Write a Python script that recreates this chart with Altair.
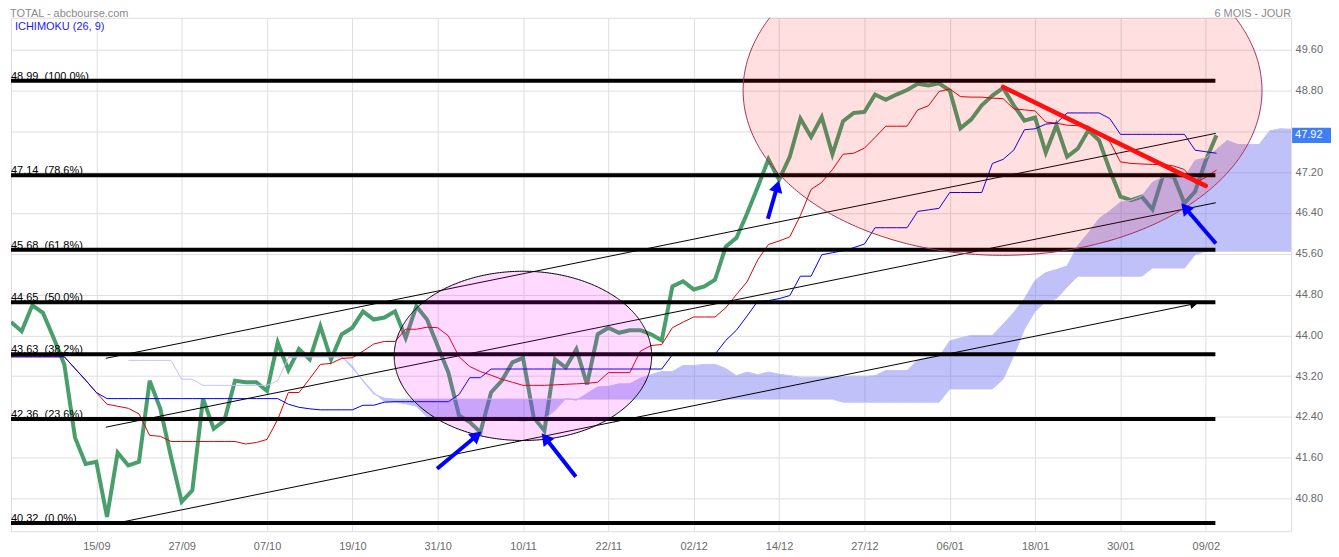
import math
import numpy as np
import pandas as pd
import altair as alt

# ---------------- data (x = trading-day index, 0 = 05/09) ----------------
tick_index = [8, 16, 24, 32, 40, 48, 56, 64, 72, 80, 88, 96, 104, 112]
tick_labels = ["15/09", "27/09", "07/10", "19/10", "31/10", "10/11", "22/11",
               "02/12", "14/12", "27/12", "06/01", "18/01", "30/01", "09/02"]
y_ticks = [40.80, 41.60, 42.40, 43.20, 44.00, 44.80, 45.60, 46.40, 47.20, 48.00, 48.80, 49.60]

close = [44.26, 44.08, 44.59, 44.44, 43.95, 43.43, 42.00, 41.48, 41.52, 40.44,
         41.70, 41.45, 41.52, 43.11, 42.56, 41.62, 40.74, 40.96, 42.76, 42.17,
         42.33, 43.11, 43.08, 43.08, 42.91, 43.86, 43.32, 43.73, 43.53, 44.18,
         43.53, 44.02, 44.15, 44.47, 44.31, 44.35, 44.47, 43.95, 44.57, 44.31,
         43.79, 43.27, 42.43, 42.30, 42.10, 42.88, 43.11, 43.47, 43.56, 42.39,
         42.13, 43.53, 43.37, 43.73, 43.04, 44.02, 44.15, 44.05, 44.10, 44.10,
         44.02, 43.90, 44.96, 45.06, 44.90, 44.96, 45.09, 45.74, 45.91, 46.39,
         46.91, 47.45, 47.05, 47.50, 48.25, 47.89, 48.28, 47.55, 48.20, 48.36,
         48.38, 48.72, 48.62, 48.72, 48.81, 48.93, 48.90, 48.94, 48.80, 48.06,
         48.23, 48.51, 48.70, 48.85, 48.51, 48.21, 48.27, 47.58, 48.12, 47.50,
         47.66, 48.02, 47.82, 47.24, 46.72, 46.65, 46.72, 46.47, 47.14, 47.11,
         46.59, 46.82, 47.43, 47.92]

tenkan = [43.58, 43.58, 43.58, 43.58, 43.58, 43.58, 43.35, 43.12, 42.88, 42.65,
          42.61, 42.57, 42.46, 42.04, 42.02, 41.92, 41.92, 41.92, 41.92, 41.92,
          41.92, 41.92, 41.87, 41.90, 41.96, 42.35, 42.88, 42.88, 43.15, 43.43,
          43.45, 43.55, 43.56, 43.69, 43.83, 43.88, 43.88, 44.12, 44.12, 44.16,
          44.15, 43.99, 43.58, 43.39, 43.29, 43.22, 43.14, 43.08, 43.02, 43.02,
          43.02, 43.03, 43.04, 43.05, 43.06, 43.08, 43.27, 43.27, 43.27, 43.69,
          43.80, 43.82, 44.15, 44.26, 44.36, 44.36, 44.36, 44.54, 44.80, 45.05,
          45.48, 45.78, 45.85, 45.93, 46.35, 46.86, 47.00, 47.25, 47.55, 47.57,
          47.67, 47.88, 48.10, 48.10, 48.10, 48.42, 48.50, 48.78, 48.83, 48.68,
          48.67, 48.67, 48.65, 48.64, 48.44, 48.42, 48.40, 48.18, 48.16, 48.12,
          48.11, 48.10, 47.95, 47.80, 47.40, 47.37, 47.36, 47.35, 47.35, 47.32,
          47.25, 46.98, 47.10, 47.24]

kijun = [43.58, 43.58, 43.58, 43.58, 43.58, 43.58, 43.35, 43.12, 42.88, 42.76,
         42.76, 42.76, 42.76, 42.76, 42.76, 42.76, 42.76, 42.76, 42.76, 42.76,
         42.76, 42.76, 42.76, 42.76, 42.76, 42.76, 42.65, 42.59, 42.56, 42.54,
         42.54, 42.54, 42.54, 42.63, 42.63, 42.69, 42.70, 42.70, 42.70, 42.70,
         42.70, 42.70, 42.84, 43.17, 43.17, 43.34, 43.34, 43.34, 43.34, 43.34,
         43.34, 43.34, 43.34, 43.34, 43.34, 43.34, 43.34, 43.34, 43.34, 43.34,
         43.34, 43.34, 43.62, 43.63, 43.63, 43.63, 43.63, 43.90, 44.10, 44.38,
         44.67, 44.68, 44.72, 44.78, 45.16, 45.16, 45.58, 45.62, 45.66, 45.72,
         45.79, 46.11, 46.11, 46.11, 46.11, 46.43, 46.46, 46.49, 46.80, 46.80,
         46.80, 46.80, 47.37, 47.45, 47.63, 48.03, 48.05, 48.14, 48.16, 48.36,
         48.36, 48.36, 48.36, 48.25, 47.94, 47.94, 47.94, 47.94, 47.94, 47.94,
         47.94, 47.63, 47.60, 47.57]

senkou_b_start = 11
senkou_b = [43.51, 43.51, 43.51, 43.51, 43.51, 43.14, 43.14, 43.02, 43.02, 43.02,
            43.02, 43.02, 43.02, 43.02, 43.11, 43.56, 43.58, 43.58, 43.58, 43.58,
            43.58, 43.40, 43.10, 42.85, 42.77, 42.75, 42.75, 42.75, 42.75, 42.75,
            42.75, 42.75, 42.75, 42.75, 42.75, 42.75, 42.75, 42.75, 42.75, 42.75,
            42.75, 42.75, 42.75, 42.75, 42.75, 42.75, 42.75, 42.75, 42.75, 42.75,
            42.75, 42.75, 42.75, 42.75, 42.75, 42.75, 42.75, 42.75, 42.75, 42.75,
            42.75, 42.75, 42.75, 42.75, 42.75, 42.75, 42.75, 42.69, 42.69, 42.69,
            42.69, 42.69, 42.69, 42.69, 42.69, 42.69, 42.69, 42.95, 42.95, 42.95,
            42.95, 42.95, 43.14, 43.60, 44.12, 44.47, 44.67, 44.72, 44.95, 45.16,
            45.16, 45.16, 45.16, 45.16, 45.16, 45.16, 45.32, 45.32, 45.32, 45.32,
            45.58, 45.65, 45.65, 45.65, 45.65, 45.65, 45.65, 45.65, 45.65, 45.65]

senkou_a_start = 26
senkou_a = [43.58, 43.58, 43.58, 43.58, 43.58, 43.58, 43.36, 43.12, 42.88, 42.70,
            42.69, 42.66, 42.61, 42.40, 42.39, 42.34, 42.34, 42.34, 42.34, 42.34,
            42.34, 42.34, 42.32, 42.34, 42.36, 42.53, 42.76, 42.73, 42.86, 42.99,
            43.00, 43.05, 43.05, 43.16, 43.23, 43.29, 43.29, 43.41, 43.41, 43.43,
            43.43, 43.35, 43.21, 43.28, 43.23, 43.28, 43.24, 43.21, 43.18, 43.18,
            43.18, 43.19, 43.19, 43.20, 43.20, 43.21, 43.31, 43.31, 43.31, 43.52,
            43.57, 43.58, 43.89, 43.95, 44.00, 44.00, 44.00, 44.22, 44.45, 44.72,
            45.08, 45.23, 45.29, 45.36, 45.76, 46.01, 46.29, 46.44, 46.61, 46.65,
            46.73, 47.00, 47.10, 47.10, 47.10, 47.43, 47.48, 47.64, 47.82, 47.74,
            47.74, 47.74, 48.01, 48.05, 48.04]

fib_values = [48.99, 47.14, 45.68, 44.65, 43.63, 42.36, 40.32]
fib_pcts = ["100.0%", "78.6%", "61.8%", "50.0%", "38.2%", "23.6%", "0.0%"]
fib_start = 0.0
fib_end = 112.9

# channel lines (start/end in index & price)
chan_x0 = [8.89, 8.89, 10.5]
chan_y0 = [43.55, 42.20, 40.345]
chan_x1 = [112.94, 112.94, 111.2]
chan_y1 = [47.96, 46.60, 44.63]

trend_x = [93.0, 112.0]
trend_y = [48.87, 46.93]

# blue arrows: tail -> head
arrow_tx = [39.94, 52.95, 70.95, 112.95]
arrow_ty = [41.386, 41.23, 46.286, 45.80]
arrow_hx = [43.97, 49.86, 71.94, 109.82]
arrow_hy = [42.089, 42.05, 47.00, 46.56]

# ellipses: centre (index, price), radii (index, price)
ell_cx = [47.99, 92.95]
ell_cy = [43.598, 48.80]
ell_rx = [12.07, 24.32]
ell_ry = [1.659, 3.231]
ell_fill = ["#ff00ff", "#ff0000"]
ell_fill_op = [0.15, 0.125]
ell_stroke = ["#000000", "#a0305a"]

last_price = 47.92

# ---------------- geometry ----------------
W, H = 1284, 515
XD = [0, 120]
YD = [40.16, 50.225]
PX_I = W / (XD[1] - XD[0])
PX_V = H / (YD[1] - YD[0])
FONT = "Liberation Sans"

xs = alt.Scale(domain=XD, nice=False, zero=False)
ys = alt.Scale(domain=YD, nice=False, zero=False)


def X(f, axis=None):
    if axis is None:
        return alt.X(f, type="quantitative", scale=xs, title=None)
    return alt.X(f, type="quantitative", scale=xs, axis=axis, title=None)


def Y(f, axis=None):
    if axis is None:
        return alt.Y(f, type="quantitative", scale=ys, title=None)
    return alt.Y(f, type="quantitative", scale=ys, axis=axis, title=None)


label_arr = "[" + ",".join("'%s'" % t for t in tick_labels) + "]"
x_axis = alt.Axis(values=tick_index, labelExpr=label_arr + "[round((datum.value - 8) / 8)]",
                  grid=True, gridColor="#dedede", gridWidth=1, ticks=False, domain=False,
                  labelColor="#6a6a6a", labelFontSize=11, labelFont=FONT, labelPadding=9,
                  labelOverlap=False, labelFlush=False)
# the 48.00 label sits under the last-price box, as in the reference
y_axis = alt.Axis(values=y_ticks, orient="right", grid=True, gridColor="#dedede",
                  labelExpr="abs(datum.value - %.2f) < 0.3 ? '' : format(datum.value, '.2f')" % last_price,
                  gridWidth=1, ticks=False, domain=False, labelColor="#6a6a6a", labelFontSize=11,
                  labelFont=FONT, labelPadding=4, labelBaseline="middle", labelOverlap=False,
                  labelFlush=False)

n = len(close)
df = pd.DataFrame({"i": np.arange(n), "close": close, "tenkan": tenkan, "kijun": kijun})
dfb = pd.DataFrame({"i": np.arange(senkou_b_start, senkou_b_start + len(senkou_b)), "b": senkou_b})
dfa = pd.DataFrame({"i": np.arange(senkou_a_start, senkou_a_start + len(senkou_a)), "a": senkou_a})
cloud = dfa.merge(dfb, on="i")

fib = pd.DataFrame({"v": fib_values, "x0": fib_start, "x1": fib_end,
                    "lab": ["%.2f\u00a0 (%s)" % (v, p) for v, p in zip(fib_values, fib_pcts)]})
chan = pd.DataFrame({"x0": chan_x0, "y0": chan_y0, "x1": chan_x1, "y1": chan_y1})
trend = pd.DataFrame({"x0": [trend_x[0]], "y0": [trend_y[0]], "x1": [trend_x[1]], "y1": [trend_y[1]]})


def arrow_parts(tx, ty, hx, hy, back_shaft, back_head):
    rows_s, rows_h = [], []
    for a, b, c, d in zip(tx, ty, hx, hy):
        dx = (c - a) * PX_I
        dy = -(d - b) * PX_V
        L = math.hypot(dx, dy)
        ux, uy = dx / L, dy / L
        ang = math.degrees(math.atan2(dx, -dy)) % 360
        rows_s.append({"x0": a, "y0": b, "x1": c - back_shaft * ux / PX_I, "y1": d + back_shaft * uy / PX_V})
        rows_h.append({"x": c - back_head * ux / PX_I, "y": d + back_head * uy / PX_V, "ang": ang})
    return pd.DataFrame(rows_s), pd.DataFrame(rows_h)


arr_s, arr_h = arrow_parts(arrow_tx, arrow_ty, arrow_hx, arrow_hy, 8, 6.0)
blk_s, blk_h = arrow_parts([chan_x0[2]], [chan_y0[2]], [chan_x1[2]], [chan_y1[2]], 4, 4.5)

# ellipse shapes
ell_area, ell_line = [], []
for k in range(len(ell_cx)):
    th = np.linspace(math.pi, 0, 241)
    ell_area.append(pd.DataFrame({"x": ell_cx[k] + ell_rx[k] * np.cos(th),
                                  "yt": ell_cy[k] + ell_ry[k] * np.sin(th),
                                  "yb": ell_cy[k] - ell_ry[k] * np.sin(th)}))
    th2 = np.linspace(0, 2 * math.pi, 481)
    ell_line.append(pd.DataFrame({"x": ell_cx[k] + ell_rx[k] * np.cos(th2),
                                  "y": ell_cy[k] + ell_ry[k] * np.sin(th2),
                                  "o": np.arange(len(th2))}))

# ---------------- layers ----------------
base = alt.Chart(df)

green = base.mark_line(color="#4a9e6c", strokeWidth=4, clip=True).encode(
    x=X("i", x_axis), y=Y("close", y_axis))

cloud_area = alt.Chart(cloud).mark_area(color="#6464f0", opacity=0.4, clip=True).encode(
    x=X("i"), y=Y("a"), y2="b")
line_b = alt.Chart(dfb).mark_line(color="#c2c2f6", strokeWidth=1, clip=True).encode(x=X("i"), y=Y("b"))
line_a = alt.Chart(dfa).mark_line(color="#c2c2f6", strokeWidth=1, clip=True).encode(x=X("i"), y=Y("a"))

red = base.mark_line(color="#e00000", strokeWidth=1, clip=True).encode(x=X("i"), y=Y("tenkan"))
blue = base.mark_line(color="#0000ee", strokeWidth=1, clip=True).encode(x=X("i"), y=Y("kijun"))

chan_l = alt.Chart(chan).mark_rule(color="black", strokeWidth=1, clip=True).encode(
    x=X("x0"), y=Y("y0"), x2="x1", y2="y1")

fib_l = alt.Chart(fib).mark_rule(color="black", strokeWidth=4, strokeCap="butt", clip=True).encode(
    x=X("x0"), x2="x1", y=Y("v"))
fib_t = alt.Chart(fib).mark_text(align="left", baseline="alphabetic", dy=-1, fontSize=11,
                                 font=FONT, color="black").encode(
    x=alt.value(0), y=Y("v"), text="lab:N")

ell_layers = []
for k in range(len(ell_cx)):
    ell_layers.append(alt.Chart(ell_area[k]).mark_area(color=ell_fill[k], opacity=ell_fill_op[k],
                                                      clip=True).encode(x=X("x"), y=Y("yt"), y2="yb"))
    ell_layers.append(alt.Chart(ell_line[k]).mark_line(color=ell_stroke[k], strokeWidth=1,
                                                      clip=True).encode(x=X("x"), y=Y("y"), order="o:Q"))

trend_l = alt.Chart(trend).mark_rule(color="#ff1010", strokeWidth=4.5, strokeCap="round", clip=True).encode(
    x=X("x0"), y=Y("y0"), x2="x1", y2="y1")

arrow_shaft = alt.Chart(arr_s).mark_rule(color="#0000ff", strokeWidth=4, clip=True).encode(
    x=X("x0"), y=Y("y0"), x2="x1", y2="y1")
arrow_head = alt.Chart(arr_h).mark_point(shape="triangle", filled=True, color="#0000ff", opacity=1,
                                         size=190, clip=True).encode(
    x=X("x"), y=Y("y"), angle=alt.Angle("ang:Q", scale=None))
blk_head = alt.Chart(blk_h).mark_point(shape="triangle", filled=True, color="black", opacity=1,
                                       size=80, clip=True).encode(
    x=X("x"), y=Y("y"), angle=alt.Angle("ang:Q", scale=None))

one = pd.DataFrame({"k": [0]})
t_title = alt.Chart(one).mark_text(align="left", baseline="alphabetic", fontSize=11, font=FONT,
                                   color="#8a8a8a", text="TOTAL - abcbourse.com").encode(
    x=alt.value(-1), y=alt.value(-0.5))
t_period = alt.Chart(one).mark_text(align="right", baseline="alphabetic", fontSize=11, font=FONT,
                                    color="#8a8a8a", text="6 MOIS - JOUR").encode(
    x=alt.value(W), y=alt.value(-0.5))
t_ichi = alt.Chart(one).mark_text(align="left", baseline="alphabetic", fontSize=11, font=FONT,
                                  color="#1a1af0", text="ICHIMOKU (26, 9)").encode(
    x=alt.value(4), y=alt.value(12.5))

half = 7.6 / PX_V
box_df = pd.DataFrame({"top": [last_price + half], "bot": [last_price - half], "v": [last_price],
                       "lab": ["%.2f" % last_price]})
box = alt.Chart(box_df).mark_rect(color="#3d7ff5", clip=False).encode(
    x=alt.value(W + 1), x2=alt.value(W + 60), y=Y("top"), y2="bot")
box_t = alt.Chart(box_df).mark_text(align="left", baseline="middle", fontSize=11, font=FONT,
                                    color="white").encode(x=alt.value(W + 4), y=Y("v"), text="lab:N")

chart = alt.layer(
    green, cloud_area, line_b, line_a, red, blue, chan_l, fib_l, fib_t,
    *ell_layers, trend_l, arrow_shaft, arrow_head, blk_head, t_title, t_period, t_ichi, box, box_t
).properties(
    width=W, height=H,
    autosize=alt.AutoSizeParams(type="none"),
    padding={"left": 3, "top": 9, "right": 40, "bottom": 25},
).configure_view(stroke="#d2d2d2", strokeWidth=1).configure(font=FONT, background="white")

chart.save("out.html", embed_options={"renderer": "svg", "actions": False})
